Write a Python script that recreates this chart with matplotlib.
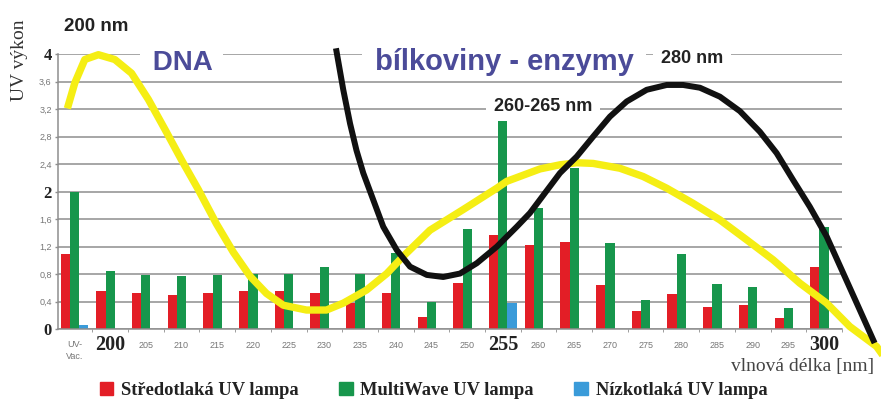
"""
UV vykon lamp vs. absorpce DNA a bilkovin
"""

import matplotlib.pyplot as plt
import numpy as np
from matplotlib.patches import Patch

# kategorie na ose x
categories = ['UV-\nVac.', '200', '205', '210', '215', '220', '225', '230', '235', '240',
              '245', '250', '255', '260', '265', '270', '275', '280', '285', '290',
              '295', '300']
bold_labels = ['200', '255', '300']

# vykon lamp
stredotlaka = [1.10, 0.55, 0.53, 0.50, 0.53, 0.56, 0.55, 0.53, 0.38, 0.53, 0.18,
               0.67, 1.37, 1.23, 1.27, 0.64, 0.26, 0.52, 0.33, 0.35, 0.17, 0.91]
multiwave = [2.00, 0.84, 0.79, 0.77, 0.79, 0.81, 0.81, 0.90, 0.81, 1.11, 0.40,
             1.45, 3.02, 1.76, 2.35, 1.25, 0.43, 1.10, 0.66, 0.61, 0.31, 1.48]
nizkotlaka = [0.06, 0, 0, 0, 0, 0, 0, 0, 0, 0, 0,
              0, 0.38, 0, 0, 0, 0, 0, 0, 0, 0, 0]

# absorpcni krivka DNA (poloha v jednotkach kategorii)
dna_x = [-0.17, 0.01, 0.29, 0.67, 1.13, 1.60, 2.07, 2.54, 3.00, 3.47, 3.98, 4.45,
         4.92, 5.38, 5.85, 6.50, 7.06, 7.53, 8.18, 8.75, 9.17, 9.96, 10.89, 11.83,
         12.11, 13.04, 13.60, 14.07, 14.53, 15.28, 15.93, 16.59, 17.33, 18.08, 18.83,
         19.57, 20.32, 21.07, 21.72, 22.47, 22.58]
dna_y = [3.26, 3.58, 3.92, 3.99, 3.92, 3.72, 3.34, 2.90, 2.46, 2.03, 1.53, 1.12,
         0.77, 0.52, 0.35, 0.28, 0.28, 0.38, 0.57, 0.81, 1.04, 1.44, 1.74, 2.05,
         2.15, 2.33, 2.39, 2.42, 2.41, 2.34, 2.22, 2.05, 1.83, 1.59, 1.30,
         1.01, 0.67, 0.38, 0.04, -0.25, -0.33]

# absorpcni krivka bilkovin
prot_x = [7.34, 7.53, 7.72, 7.90, 8.09, 8.37, 8.65, 9.03, 9.40, 9.87, 10.33,
          10.80, 11.27, 11.83, 12.39, 12.76, 13.60, 14.07, 14.53, 15.00, 15.47,
          16.03, 16.59, 17.05, 17.52, 18.08, 18.64, 19.20, 19.67, 20.13, 20.60,
          21.07, 21.54, 22.00, 22.38]
prot_y = [4.04, 3.48, 2.99, 2.60, 2.27, 1.88, 1.49, 1.15, 0.91, 0.79, 0.76,
          0.81, 0.96, 1.20, 1.49, 1.69, 2.27, 2.51, 2.80, 3.09, 3.31,
          3.48, 3.55, 3.55, 3.51, 3.38, 3.17, 2.87, 2.56, 2.17, 1.78,
          1.35, 0.81, 0.28, -0.16]

yticks = [0, 0.4, 0.8, 1.2, 1.6, 2, 2.4, 2.8, 3.2, 3.6, 4]

RED = '#e31e26'
GREEN = '#17964c'
BLUE = '#3a9bd9'
YELLOW = '#f5ee14'
PURPLE = '#4b4b99'
GRID = '#8e8e8e'

fig = plt.figure(figsize=(8.81, 4.03), dpi=100)
ax = fig.add_axes([0.0658, 0.1829, 0.8899, 0.6831])

x = np.arange(len(categories))
w = 0.26
ax.bar(x - w, stredotlaka, w, color=RED, zorder=2)
ax.bar(x, multiwave, w, color=GREEN, zorder=2)
ax.bar(x + w, nizkotlaka, w, color=BLUE, zorder=2)

ax.plot(dna_x, dna_y, color=YELLOW, lw=5.3, clip_on=False, zorder=4,
        solid_joinstyle='round')
ax.plot(prot_x, prot_y, color='#111111', lw=4.3, clip_on=False, zorder=5,
        solid_joinstyle='round')

ax.set_xlim(-0.462, 21.5)
ax.set_ylim(0, 4)

# osa y
ax.set_yticks(yticks)
ax.set_yticklabels([f'{v:g}'.replace('.', ',') for v in yticks])
for lbl, v in zip(ax.get_yticklabels(), yticks):
    if v in (0, 2, 4):
        lbl.set_fontfamily('Liberation Serif')
        lbl.set_fontweight('bold')
        lbl.set_fontsize(12)
        lbl.set_color('#222222')
    else:
        lbl.set_fontfamily('Liberation Sans')
        lbl.set_fontsize(6.5)
        lbl.set_color('#777777')
ax.tick_params(axis='y', length=2.5, width=1, color=GRID, pad=2)
ax.yaxis.grid(True, color=GRID, lw=1.1)
ax.set_axisbelow(True)

# osa x
ax.set_xticks([])
ax.set_xticks(x + 0.5, minor=True)
ax.tick_params(axis='x', which='minor', length=2.5, color=GRID)
trans = ax.get_xaxis_transform()
for xi, cat in zip(x, categories):
    if cat in bold_labels:
        ax.text(xi, -0.057, cat, transform=trans, ha='center', va='center',
                fontsize=14.5, family='Liberation Serif', weight='bold', color='#222222')
    elif '\n' in cat:
        ax.text(xi, -0.04, cat, transform=trans, ha='center', va='top',
                fontsize=6.5, family='Liberation Sans', color='#777777', linespacing=1.4)
    else:
        ax.text(xi, -0.06, cat, transform=trans, ha='center', va='center',
                fontsize=6.5, family='Liberation Sans', color='#777777')

for side in ['top', 'right']:
    ax.spines[side].set_visible(False)
for side in ['left', 'bottom']:
    ax.spines[side].set_color(GRID)
    ax.spines[side].set_linewidth(1.1)

# popisky krivek
box = dict(boxstyle='square,pad=0.15', facecolor='white', edgecolor='none')
ax.text(0.60, 4.33, '200 nm', ha='center', va='baseline', fontsize=13.5,
        family='Liberation Sans', weight='bold', color='#222222', zorder=3)
ax.text(3.01, 3.77, ' DNA ', ha='center', va='baseline', fontsize=20,
        family='Liberation Sans', weight='bold', color=PURPLE, bbox=box, zorder=3)
ax.text(8.19, 3.77, ' bílkoviny - enzymy ', ha='left', va='baseline', fontsize=21,
        family='Liberation Sans', weight='bold', color=PURPLE, bbox=box, zorder=3)
ax.text(17.3, 3.87, ' 280 nm ', ha='center', va='baseline', fontsize=13,
        family='Liberation Sans', weight='bold', color='#222222', bbox=box, zorder=3)
ax.text(13.13, 3.17, ' 260-265 nm ', ha='center', va='baseline', fontsize=13,
        family='Liberation Sans', weight='bold', color='#222222', bbox=box, zorder=3)

fig.text(20 / 881, 1 - 60 / 403, 'UV výkon', rotation=90, ha='center', va='center',
         fontsize=14, family='Liberation Serif', color='#333333')
fig.text(874 / 881, 1 - 366 / 403, 'vlnová délka [nm]', ha='right', va='center',
         fontsize=14, family='Liberation Serif', color='#444444')

handles = [Patch(color=RED, label='Středotlaká UV lampa'),
           Patch(color=GREEN, label='MultiWave UV lampa'),
           Patch(color=BLUE, label='Nízkotlaká UV lampa')]
fig.legend(handles=handles, loc='center', bbox_to_anchor=(0.492, 0.032), ncol=3,
           frameon=False, handlelength=0.75, handleheight=0.75, handletextpad=0.4,
           columnspacing=2.2, borderaxespad=0,
           prop={'family': 'Liberation Serif', 'weight': 'bold', 'size': 13.3})
for t in fig.legends[0].get_texts():
    t.set_color('#222222')

plt.savefig('out.png', dpi=100)
